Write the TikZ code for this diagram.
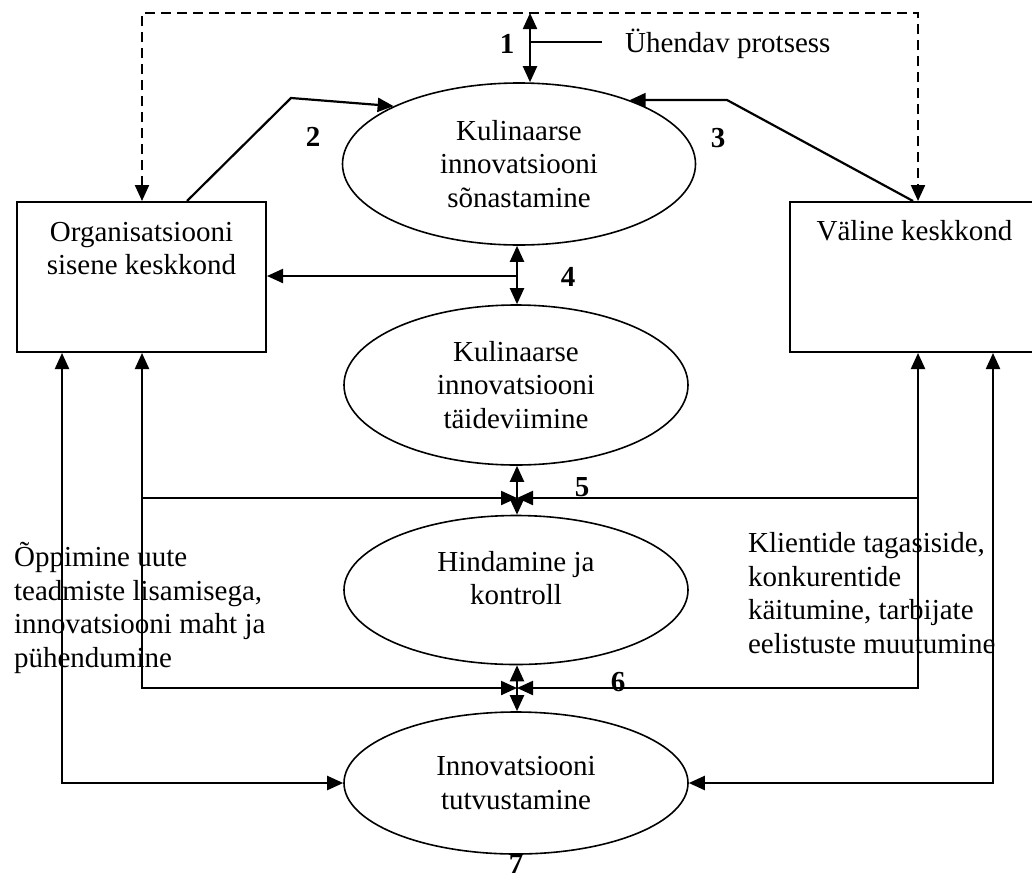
\documentclass[tikz,border=0pt]{standalone}
\usepackage{fontspec}
\setmainfont{Liberation Serif}
\usetikzlibrary{shapes.geometric,arrows.meta,positioning}

\begin{document}
\begin{tikzpicture}[x=1pt,y=-1pt,
  line width=2.2pt,
  >={Triangle[length=16pt,width=14pt]},
  every node/.style={font=\fontsize{29}{33.5}\selectfont},
  envbox/.style={draw, rectangle, line width=2pt, minimum width=249pt, minimum height=150pt, inner sep=0pt, anchor=north west},
  stage/.style={draw, ellipse, line width=1.6pt, minimum width=344pt, minimum height=160pt, inner sep=0pt, align=center},
  num/.style={font=\fontsize{29}{33.5}\selectfont\bfseries}]
\useasboundingbox (0,0) rectangle (1032,881);

% keskkonnad
\node[envbox] (org) at (16,201) {};
\node[envbox] (ext) at (789,201) {};
\node[below=20pt of org.north, inner sep=0pt, align=center] (orgtxt) {Organisatsiooni\\sisene keskkond};
\node[below=18pt of ext.north, inner sep=0pt, align=center] (exttxt) {Väline keskkond};

% etapid
\node[stage, minimum width=353pt, minimum height=162pt] (e1) at (519,164) {Kulinaarse\\innovatsiooni\\sõnastamine};
\node[stage] (e2) at (516,385) {Kulinaarse\\innovatsiooni\\täideviimine};
\node[stage, minimum height=149pt, text depth=24pt] (e3) at (516,590) {Hindamine ja\\kontroll};
\node[stage, minimum height=142pt] (e4) at (516,783) {Innovatsiooni\\tutvustamine};

\coordinate (dl) at (142,13);
\coordinate (dr) at (918,13);
\coordinate (c1) at (530,13);
\coordinate (c1m) at (530,42);
\coordinate (s2) at (187,201);
\coordinate (k2) at (291,98);
\coordinate (s3) at (913,201);
\coordinate (k3) at (727,100);
\coordinate (j4) at (517,276);
\coordinate (j5) at (517,498);
\coordinate (j6) at (517,688);
\coordinate (ol) at (62,783);
\coordinate (or) at (993,783);

% 1
\draw[dashed, dash pattern=on 10pt off 6pt, <->] (dl |- org.north) -- (dl) -- (dr) -- (dr |- ext.north);
\draw[<->] (c1) -- (c1 |- e1.north);
\draw[line width=1.6pt] (c1m) -- ++(72,0);
\node[anchor=base west, inner sep=0pt] (proc) at (624,52) {Ühendav protsess};
\node[num] (n1) at (507,44) {1};

% 2 ja 3
\draw[->] (s2) -- (k2) -- (e1.north west);
\draw[->] (s3) -- (k3) -- (e1.30);
\node[num] (n2) at (313,137) {2};
\node[num] (n3) at (718,138) {3};

% 4
\draw[<->] (j4 |- e1.south) -- (j4 |- e2.north);
\draw[->] (j4) -- (j4 -| org.east);
\node[num] (n4) at (568,277) {4};

% 5 ja 6
\draw[<->] (j5 |- e2.south) -- (j5 |- e3.north);
\draw[->] (dl |- j5) -- (j5);
\draw[->] (dr |- j5) -- (j5);
\node[num] (n5) at (582,487) {5};
\draw[<->] (j6 |- e3.south) -- (j6 |- e4.north);
\draw[<->] (org.south -| dl) -- (dl |- j6) -- (j6);
\draw[<->] (ext.south -| dr) -- (dr |- j6) -- (j6);
\node[num] (n6) at (618,682) {6};

% 7
\draw[<->] (org.south -| ol) -- (ol) -- (e4.west);
\draw[<->] (ext.south -| or) -- (or) -- (e4.east);
\node[num] (n7) at (516,864) {7};

% tagasiside
\node[anchor=base west, inner sep=0pt, align=left] (learn) at (13,667) {Õppimine uute\\teadmiste lisamisega,\\innovatsiooni maht ja\\pühendumine};
\node[anchor=base west, inner sep=0pt, align=left] (client) at (747,653) {Klientide tagasiside,\\konkurentide\\käitumine, tarbijate\\eelistuste muutumine};
\end{tikzpicture}
\end{document}
